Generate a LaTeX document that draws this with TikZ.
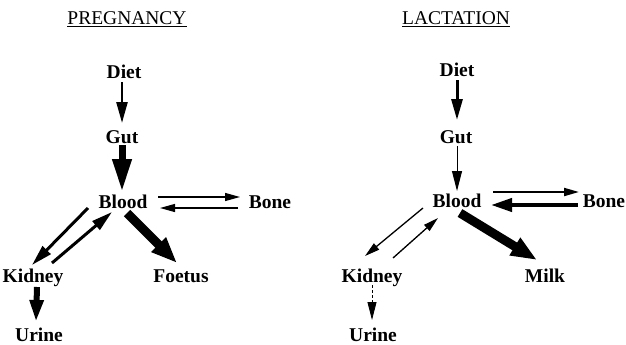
\documentclass[tikz,border=0pt]{standalone}
\usepackage{fontspec}
\setmainfont{Liberation Serif}
\usetikzlibrary{arrows.meta}

\begin{document}
\begin{tikzpicture}[
    x=1pt, y=-1pt,
    lbl/.style={anchor=base, inner sep=0pt, font=\bfseries\fontsize{19.5}{21}\selectfont},
    ttl/.style={anchor=base, inner sep=0pt, font=\fontsize{19.5}{22}\selectfont},
    hairflow/.style={line width=1.2pt, -{Triangle[length=15pt, width=8pt]}},
    medflow/.style={line width=3pt, -{Triangle[length=21pt, width=11pt]}},
    thickflow/.style={line width=6pt, -{Triangle[length=24pt, width=15pt]}},
    heavyflow/.style={line width=9pt, -{Triangle[length=26pt, width=19pt]}}
]
    \useasboundingbox (0,0) rectangle (626,345);

    % 1. Pregnancy
    \node[ttl] (ptitle) at (127, 25) {\underline{PREGNANCY}};
    \node[lbl] (pdiet) at (124, 78) {Diet};
    \node[lbl] (pgut) at (122, 143) {Gut};
    \node[lbl] (pblood) at (123, 208) {Blood};
    \node[lbl] (pbone) at (270, 208) {Bone};
    \node[lbl] (pkidney) at (33, 282) {Kidney};
    \node[lbl] (pfoetus) at (181, 282) {Foetus};
    \node[lbl] (purine) at (39, 341) {Urine};

    % Arrows: pregnancy
    \draw[medflow, line width=2.5pt] ([shift={(-2,4)}]pdiet.base) -- ([shift={(0,-20)}]pgut.base);
    \draw[thickflow, line width=7pt, -{Triangle[length=33pt, width=18pt]}] ([shift={(0,2)}]pgut.base) -- ([shift={(-1,-16)}]pblood.base);
    \draw[hairflow] ([shift={(35,-11)}]pblood.base) -- ([shift={(-30,-11)}]pbone.base);
    \draw[hairflow] ([shift={(-32,0)}]pbone.base) -- ([shift={(37,0)}]pblood.base);
    \draw[medflow] ([shift={(-35,0)}]pblood.base) -- ([shift={(-1,-17)}]pkidney.base);
    \draw[medflow] ([shift={(19,-19)}]pkidney.base) -- ([shift={(-11,4)}]pblood.base);
    \draw[heavyflow] ([shift={(4,5)}]pblood.base) -- ([shift={(-4,-19)}]pfoetus.base);
    \draw[thickflow, -{Triangle[length=22pt, width=13pt]}] ([shift={(4,5)}]pkidney.base) -- ([shift={(-3,-19)}]purine.base);

    % 2. Lactation
    \node[ttl] (ltitle) at (456, 25) {\underline{LACTATION}};
    \node[lbl] (ldiet) at (457, 76) {Diet};
    \node[lbl] (lgut) at (456, 143) {Gut};
    \node[lbl] (lblood) at (457, 207) {Blood};
    \node[lbl] (lbone) at (604, 207) {Bone};
    \node[lbl] (lkidney) at (372, 282) {Kidney};
    \node[lbl] (lmilk) at (545, 282) {Milk};
    \node[lbl] (lurine) at (373, 341) {Urine};

    % Arrows: lactation
    \draw[medflow] ([shift={(0,4)}]ldiet.base) -- ([shift={(1,-23)}]lgut.base);
    \draw[hairflow, line width=1pt, -{Triangle[length=20pt, width=10pt]}] ([shift={(1,3)}]lgut.base) -- ([shift={(0,-16)}]lblood.base);
    \draw[hairflow, line width=2pt] ([shift={(36,-15)}]lblood.base) -- ([shift={(-25,-15)}]lbone.base);
    \draw[medflow, line width=4pt, -{Triangle[length=21pt, width=13pt]}] ([shift={(-26,-2)}]lbone.base) -- ([shift={(34,-2)}]lblood.base);
    \draw[hairflow, line width=1.3pt] ([shift={(-34,1)}]lblood.base) -- ([shift={(-7,-26)}]lkidney.base);
    \draw[hairflow, line width=1.3pt] ([shift={(21,-24)}]lkidney.base) -- ([shift={(-19,11)}]lblood.base);
    \draw[heavyflow] ([shift={(3,6)}]lblood.base) -- ([shift={(-8,-22)}]lmilk.base);
    \draw[hairflow, line width=0.8pt, dash pattern=on 3pt off 2pt, -{Triangle[length=18pt, width=9pt]}] ([shift={(0,3)}]lkidney.base) -- ([shift={(-1,-21)}]lurine.base);

\end{tikzpicture}
\end{document}
